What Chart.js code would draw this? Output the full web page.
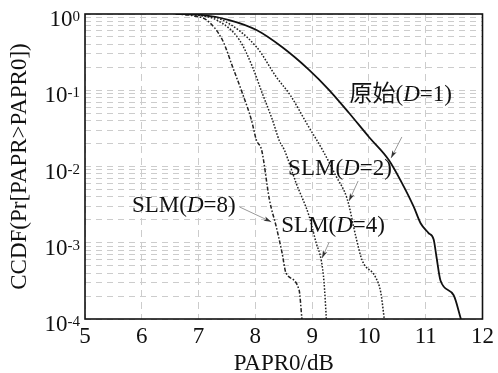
<!DOCTYPE html>
<html>
<head>
<meta charset="utf-8">
<script src="https://cdn.jsdelivr.net/npm/chart.js@4.4.0/dist/chart.umd.min.js"></script>
<style>
  html, body { margin: 0; padding: 0; background: #fff; }
  canvas { display: block; }
</style>
</head>
<body>
<canvas id="ccdf" width="498" height="373"></canvas>
<script>
// PAPR0 (dB) and CCDF values
const paprD1 = [6.6, 7.0, 7.54, 8.02, 8.47, 8.95, 9.30, 9.65, 10.0, 10.35, 10.58, 10.79, 10.91, 11.05, 11.14, 11.19, 11.26, 11.49, 11.62];
const ccdfD1 = [1.0, 0.98, 0.834, 0.617, 0.369, 0.184, 0.1007, 0.0503, 0.0244, 0.0122, 0.0061, 0.00295, 0.0018, 0.00134, 0.0011, 0.00065, 0.00032, 0.000206, 0.0001];

const paprD2 = [6.6, 7.0, 7.42, 8.02, 8.37, 8.62, 8.92, 9.18, 9.42, 9.62, 9.77, 9.88, 10.12, 10.21, 10.27];
const ccdfD2 = [1.0, 0.97, 0.834, 0.369, 0.149, 0.085, 0.035, 0.0166, 0.0075, 0.0037, 0.0012, 0.00059, 0.00035, 0.00022, 0.0001];

const paprD4 = [6.6, 7.0, 7.32, 7.72, 7.95, 8.12, 8.30, 8.42, 8.51, 8.72, 8.95, 9.07, 9.16, 9.21, 9.25];
const ccdfD4 = [1.0, 0.96, 0.834, 0.456, 0.202, 0.092, 0.041, 0.022, 0.0165, 0.0060, 0.0022, 0.0010, 0.00059, 0.00030, 0.0001];

const paprD8 = [6.6, 6.9, 7.14, 7.42, 7.60, 7.77, 7.93, 8.02, 8.11, 8.25, 8.37, 8.47, 8.54, 8.77, 8.82];
const ccdfD8 = [1.0, 0.95, 0.834, 0.456, 0.202, 0.092, 0.041, 0.022, 0.0165, 0.0036, 0.0016, 0.00074, 0.00040, 0.00024, 0.0001];

const xTicks = [5, 6, 7, 8, 9, 10, 11, 12];
const yDecades = [1e-4, 1e-3, 1e-2, 1e-1, 1];
const yExponents = ['-4', '-3', '-2', '-1', '0'];

// curve labels (data coords), segments: [text, italic]
const notes = [
  {parts: [['原始(', false], ['D', true], ['=1)', false]], x: 10.56, y: 0.0867},
  {parts: [['SLM(', false], ['D', true], ['=2)', false]], x: 9.49, y: 0.0093},
  {parts: [['SLM(', false], ['D', true], ['=8)', false]], x: 6.74, y: 0.00303},
  {parts: [['SLM(', false], ['D', true], ['=4)', false]], x: 9.37, y: 0.00166}
];
const pointers = [
  {x1: 10.58, y1: 0.0244, x2: 10.39, y2: 0.0129},
  {x1: 9.81, y1: 0.00646, x2: 9.65, y2: 0.00353},
  {x1: 9.30, y1: 0.00102, x2: 9.175, y2: 0.00063},
  {x1: 7.72, y1: 0.00295, x2: 8.28, y2: 0.00188}
];

const serif = "'Liberation Serif', 'Times New Roman', 'Noto Sans CJK SC', serif";
function fontStr(size, italic) {
  return (italic ? 'italic ' : '') + size + 'px ' + serif;
}
function zip(xs, ys) {
  return xs.map((v, i) => ({x: v, y: ys[i]}));
}

const decorations = {
  id: 'decorations',
  afterDraw(chart) {
    const {ctx, chartArea: a, scales: {x, y}} = chart;
    ctx.save();
    ctx.strokeStyle = '#111';
    ctx.lineWidth = 1.6;
    ctx.strokeRect(a.left, a.top, a.right - a.left, a.bottom - a.top);

    // y tick labels 10^n
    ctx.fillStyle = '#111';
    ctx.textBaseline = 'alphabetic';
    ctx.textAlign = 'right';
    yDecades.forEach((v, i) => {
      const py = y.getPixelForValue(v);
      ctx.font = fontStr(15);
      const ew = ctx.measureText(yExponents[i]).width;
      ctx.fillText(yExponents[i], 80, py + 7);
      ctx.font = fontStr(23);
      ctx.fillText('10', 80 - ew, py + 12);
    });

    // pointer arrows
    pointers.forEach(p => {
      const x1 = x.getPixelForValue(p.x1), y1 = y.getPixelForValue(p.y1);
      const x2 = x.getPixelForValue(p.x2), y2 = y.getPixelForValue(p.y2);
      ctx.strokeStyle = '#999';
      ctx.lineWidth = 1;
      ctx.beginPath();
      ctx.moveTo(x1, y1);
      ctx.lineTo(x2, y2);
      ctx.stroke();
      const ang = Math.atan2(y2 - y1, x2 - x1);
      const len = 8, spread = 0.3;
      ctx.fillStyle = '#333';
      ctx.beginPath();
      ctx.moveTo(x2, y2);
      ctx.lineTo(x2 - len * Math.cos(ang - spread), y2 - len * Math.sin(ang - spread));
      ctx.lineTo(x2 - len * 0.7 * Math.cos(ang), y2 - len * 0.7 * Math.sin(ang));
      ctx.lineTo(x2 - len * Math.cos(ang + spread), y2 - len * Math.sin(ang + spread));
      ctx.closePath();
      ctx.fill();
    });

    // curve labels
    ctx.fillStyle = '#111';
    ctx.textAlign = 'left';
    ctx.textBaseline = 'middle';
    notes.forEach(n => {
      let total = 0;
      n.parts.forEach(([t, it]) => { ctx.font = fontStr(23, it); total += ctx.measureText(t).width; });
      let cx = x.getPixelForValue(n.x) - total / 2;
      const cy = y.getPixelForValue(n.y);
      n.parts.forEach(([t, it]) => {
        ctx.font = fontStr(23, it);
        ctx.fillText(t, cx, cy);
        cx += ctx.measureText(t).width;
      });
    });
    ctx.restore();
  }
};

new Chart(document.getElementById('ccdf'), {
  type: 'line',
  data: {
    datasets: [
      {label: 'D=1', data: zip(paprD1, ccdfD1), borderColor: '#111', borderWidth: 1.8},
      {label: 'D=2', data: zip(paprD2, ccdfD2), borderColor: '#222', borderWidth: 1.5, borderDash: [1.6, 1.6]},
      {label: 'D=4', data: zip(paprD4, ccdfD4), borderColor: '#222', borderWidth: 1.5, borderDash: [1.6, 1.6]},
      {label: 'D=8', data: zip(paprD8, ccdfD8), borderColor: '#222', borderWidth: 1.5, borderDash: [4, 1.8, 1.6, 1.8]}
    ]
  },
  options: {
    responsive: false,
    animation: false,
    layout: {padding: {left: 0, right: 14, top: 14, bottom: 0}},
    elements: {point: {radius: 0}, line: {cubicInterpolationMode: 'monotone'}},
    plugins: {legend: {display: false}, tooltip: {enabled: false}},
    scales: {
      x: {
        type: 'linear',
        min: 5,
        max: 12,
        afterBuildTicks: axis => { axis.ticks = xTicks.map(v => ({value: v})); },
        afterFit: axis => { axis.height = 54; },
        grid: {color: '#cccccc', drawTicks: false},
        border: {display: false, dash: [7, 5]},
        ticks: {color: '#111', font: {family: serif, size: 23}, padding: 4, maxRotation: 0, autoSkip: false},
        title: {display: true, text: 'PAPR0/dB', color: '#111', font: {family: serif, size: 23, lineHeight: 0.8}, padding: 0}
      },
      y: {
        type: 'logarithmic',
        min: 1e-4,
        max: 1,
        afterBuildTicks: axis => {
          const t = [];
          yDecades.forEach(d => {
            if (d < 1) { for (let m = 1; m < 10; m++) t.push({value: d * m}); } else t.push({value: d});
          });
          axis.ticks = t;
        },
        afterFit: axis => { axis.width = 85; },
        grid: {color: '#cccccc', drawTicks: false},
        border: {display: false, dash: [6, 5]},
        ticks: {callback: () => '', font: {family: serif, size: 10}, autoSkip: false},
        title: {display: true, text: 'CCDF(Pr[PAPR>PAPR0])', color: '#111', font: {family: serif, size: 23, lineHeight: 1.2}, padding: {top: 6, bottom: 0}}
      }
    }
  },
  plugins: [decorations]
});
</script>
</body>
</html>
